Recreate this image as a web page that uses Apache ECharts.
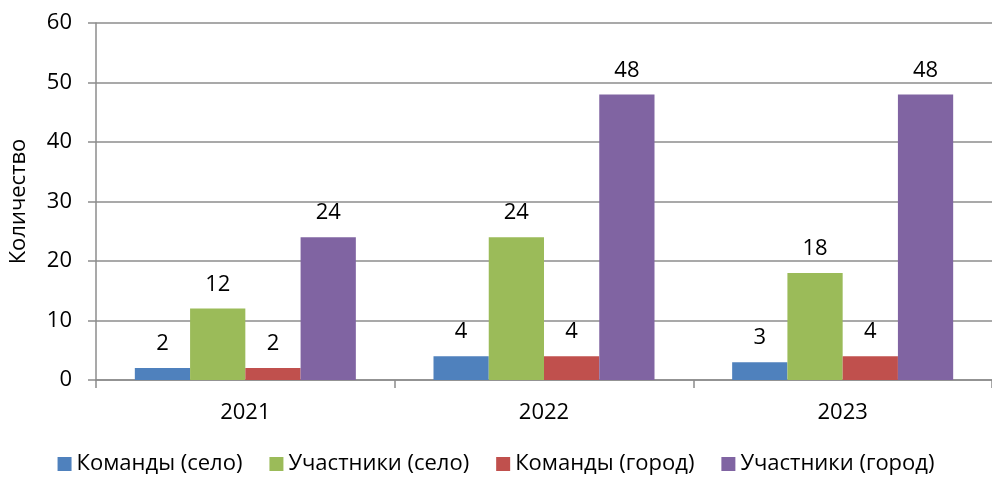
<!DOCTYPE html>
<html lang="ru">
<head>
    <meta charset="UTF-8">
    <title>Количество</title>
    <script src="https://cdn.jsdelivr.net/npm/echarts@6/dist/echarts.min.js"></script>
    <style>
        html, body { margin: 0; padding: 0; background: #fff; }
        #chartmain { width: 992px; height: 480px; }
    </style>
</head>
<body>
<div id="chartmain"></div>
<script>
    // данные
    var years = ['2021', '2022', '2023'];
    var komandySelo = [2, 4, 3];
    var uchastnikiSelo = [12, 24, 18];
    var komandyGorod = [2, 4, 4];
    var uchastnikiGorod = [24, 48, 48];
    var yTicks = [0, 10, 20, 30, 40, 50, 60];

    var font = 'Open Sans, Liberation Sans, sans-serif';
    var lineColor = '#8c8c8c';

    function bar(name, data, color) {
        return {
            name: name,
            type: 'bar',
            data: data,
            barGap: 0,
            barCategoryGap: '26%',
            itemStyle: { color: color },
            label: {
                show: true,
                position: 'top',
                distance: 13,
                color: '#000',
                fontSize: 22,
                fontFamily: font
            }
        };
    }

    var myChart = echarts.init(document.getElementById('chartmain'));
    myChart.setOption({
        animation: false,
        grid: { left: 96, right: -4, top: 23, bottom: 100 },
        legend: {
            bottom: 0,
            left: 'center',
            itemWidth: 14,
            itemHeight: 14,
            itemGap: 27,
            icon: 'rect',
            textStyle: { fontSize: 22, color: '#000', fontFamily: font },
            data: ['Команды (село)', 'Участники (село)', 'Команды (город)', 'Участники (город)']
        },
        xAxis: {
            type: 'category',
            data: years,
            axisLine: { lineStyle: { color: lineColor, width: 1.5 } },
            axisTick: { show: true, length: 8, lineStyle: { color: lineColor, width: 1.5 } },
            axisLabel: { fontSize: 22, color: '#000', fontFamily: font, margin: 22 }
        },
        yAxis: {
            type: 'value',
            min: yTicks[0],
            max: yTicks[yTicks.length - 1],
            interval: 10,
            name: 'Количество',
            nameLocation: 'middle',
            nameGap: 66,
            nameTextStyle: { fontSize: 22, color: '#000', fontFamily: font },
            axisLine: { show: true, lineStyle: { color: lineColor, width: 1.5 } },
            axisTick: { show: true, length: 8, lineStyle: { color: lineColor, width: 1.5 } },
            axisLabel: { fontSize: 22, color: '#000', fontFamily: font, margin: 24 },
            splitLine: { show: true, lineStyle: { color: lineColor, width: 1.5 } }
        },
        series: [
            bar('Команды (село)', komandySelo, '#4F81BD'),
            bar('Участники (село)', uchastnikiSelo, '#9BBB59'),
            bar('Команды (город)', komandyGorod, '#C0504D'),
            bar('Участники (город)', uchastnikiGorod, '#8064A2')
        ]
    });
</script>
</body>
</html>
